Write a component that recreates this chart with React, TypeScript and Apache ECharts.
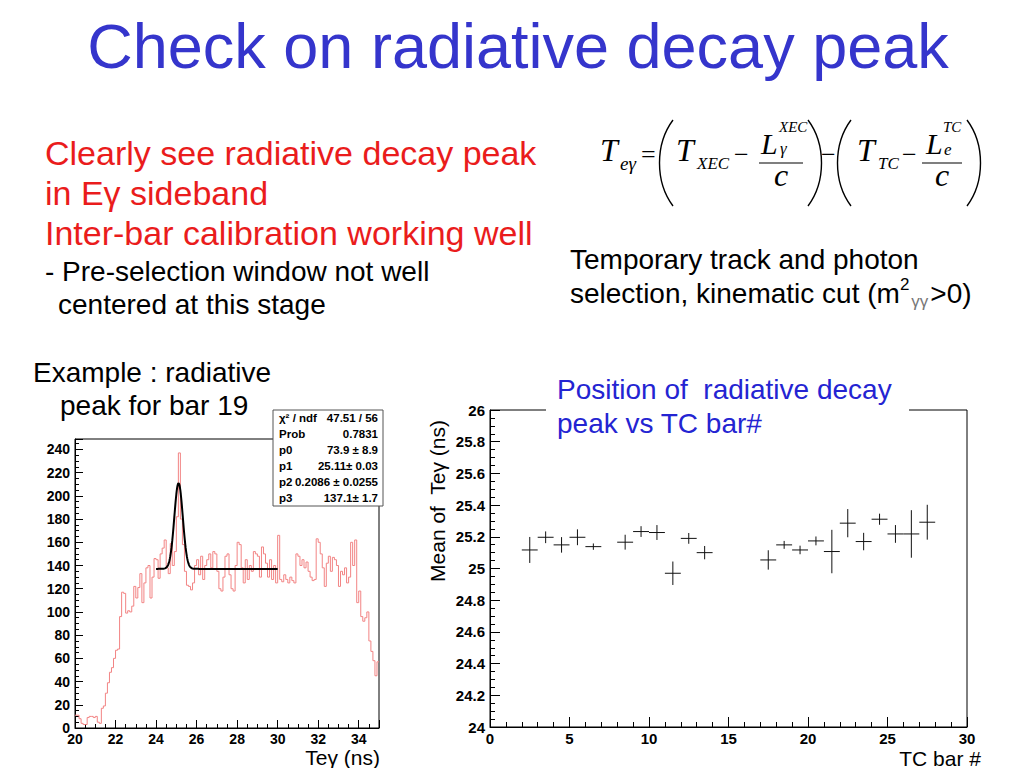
import React, { useEffect, useRef } from "react";
import * as echarts from "echarts";

// ---------- DATA ----------
const histStart = 20;
const histBinWidth = 0.1;
const histCounts = [
  11, 11, 8, 4, 3, 3, 9, 10, 10, 9,
  10, 5, 4, 17, 19, 30, 39, 48, 52, 60,
  67, 68, 96, 117, 116, 99, 101, 100, 105, 122,
  112, 121, 133, 108, 125, 138, 140, 112, 130, 146,
  145, 129, 150, 155, 162, 138, 133, 159, 140, 152,
  182, 237, 180, 158, 135, 123, 122, 119, 125, 140,
  145, 132, 148, 128, 140, 145, 150, 138, 152, 150,
  135, 120, 118, 130, 148, 150, 132, 120, 118, 140,
  160, 158, 138, 125, 145, 128, 140, 135, 152, 150,
  148, 130, 156, 150, 142, 130, 145, 128, 140, 125,
  166, 128, 126, 132, 128, 125, 130, 127, 125, 150,
  148, 140, 145, 138, 143, 135, 130, 127, 128, 163,
  160, 150, 138, 122, 142, 148, 135, 147, 145, 140,
  122, 135, 132, 138, 125, 130, 160, 140, 162, 108,
  118, 96, 92, 95, 100, 75, 66, 58, 45, 57,
];

// fit: p0*gaus(p1,p2) + p3, drawn over 24..30
const fitParams = [73.9, 25.11, 0.2086, 137.1];
const fitRange = [24, 30];

const statsLabels = ["χ² / ndf", "Prob", "p0", "p1", "p2", "p3"];
const statsValues = ["47.51 / 56", "0.7831", "73.9 ± 8.9", "25.11± 0.03", "0.2086 ± 0.0255", "137.1± 1.7"];

const barIndex = [2.5, 3.5, 4.5, 5.5, 6.5, 8.5, 9.5, 10.5, 11.5, 12.5, 13.5, 17.5, 18.5, 19.5, 20.5, 21.5, 22.5, 23.5, 24.5, 25.5, 26.5, 27.5];
const barMean = [25.117, 25.197, 25.149, 25.197, 25.138, 25.166, 25.233, 25.227, 24.97, 25.19, 25.1, 25.054, 25.149, 25.117, 25.174, 25.107, 25.286, 25.17, 25.311, 25.218, 25.218, 25.292];
const barErr = [0.082, 0.037, 0.049, 0.05, 0.02, 0.047, 0.034, 0.047, 0.074, 0.034, 0.042, 0.061, 0.025, 0.027, 0.028, 0.137, 0.089, 0.055, 0.035, 0.056, 0.15, 0.11];

// ---------- STYLE ----------
const SANS = "Liberation Sans, Arial, Helvetica, sans-serif";
const SERIF = "Liberation Serif, Times New Roman, serif";
const BLUE_TITLE = "#3535cc";
const BLUE = "#2424d2";
const RED = "#ea1c1c";

function buildHist() {
  const pts: number[][] = histCounts.map((v, i) => [histStart + i * histBinWidth, v]);
  pts.push([histStart + histCounts.length * histBinWidth, histCounts[histCounts.length - 1]]);
  return pts;
}

function buildFit() {
  const [p0, p1, p2, p3] = fitParams;
  const pts: number[][] = [];
  const n = 300;
  for (let i = 0; i <= n; i++) {
    const x = fitRange[0] + ((fitRange[1] - fitRange[0]) * i) / n;
    pts.push([x, p0 * Math.exp(-0.5 * ((x - p1) / p2) ** 2) + p3]);
  }
  return pts;
}

const txt = (x: number, y: number, text: string, style: any, extra: any = {}) => ({
  type: "text",
  x,
  y,
  z: 20,
  style: { text, fill: "#000", fontFamily: SANS, verticalAlign: "middle", align: "left", ...style },
  ...extra,
});

const paren = (x1: number, xc: number, y1: number, y2: number) => ({
  type: "bezierCurve",
  z: 20,
  shape: { x1, y1, cpx1: xc, cpy1: y1 + (y2 - y1) * 0.28, cpx2: xc, cpy2: y2 - (y2 - y1) * 0.28, x2: x1, y2 },
  style: { stroke: "#000", lineWidth: 1.4, fill: "none" },
});

const hline = (x1: number, x2: number, y: number, w = 1.2) => ({
  type: "line",
  z: 20,
  shape: { x1, y1: y, x2, y2: y },
  style: { stroke: "#000", lineWidth: w },
});

function formula() {
  const it = (size: number) => ({ fontFamily: SERIF, fontStyle: "italic", fontSize: size });
  const up = (size: number) => ({ fontFamily: SERIF, fontSize: size });
  const yT = 150;
  const ySub = 163;
  return [
    txt(600, yT, "T", it(32)),
    txt(620, ySub, "eγ", it(19)),
    txt(641, 154, "=", up(26)),
    paren(673, 655, 120, 206),
    txt(676, yT, "T", it(32)),
    txt(697, ySub, "XEC", it(17)),
    txt(734, 154, "−", up(26)),
    txt(761, 143, "L", it(30)),
    txt(779, 127, "XEC", it(15)),
    txt(780, 148, "γ", it(17)),
    hline(759, 803, 163),
    txt(781, 175, "c", { ...it(32), align: "center" }),
    paren(808, 826, 120, 206),
    txt(821, 154, "−", up(26)),
    paren(851, 833, 120, 206),
    txt(857, yT, "T", it(32)),
    txt(878, ySub, "TC", it(17)),
    txt(902, 154, "−", up(26)),
    txt(926, 143, "L", it(30)),
    txt(943, 127, "TC", it(15)),
    txt(944, 149, "e", it(17)),
    hline(922, 962, 163),
    txt(942, 175, "c", { ...it(32), align: "center" }),
    paren(967, 985, 120, 206),
  ];
}

function statsBox() {
  const x0 = 273, y0 = 410, w = 110, h = 96;
  const rowH = h / statsLabels.length;
  const children: any[] = [
    { type: "rect", z: 30, shape: { x: x0, y: y0, width: w, height: h }, style: { fill: "#fff", stroke: "#555", lineWidth: 1 } },
  ];
  statsLabels.forEach((lab, i) => {
    const y = y0 + rowH * (i + 0.5);
    children.push({ type: "text", z: 31, x: x0 + 6, y, style: { text: lab, fill: "#000", fontFamily: SANS, fontWeight: "bold", fontSize: 11.5, verticalAlign: "middle", align: "left" } });
    children.push({ type: "text", z: 31, x: x0 + w - 5, y, style: { text: statsValues[i], fill: "#000", fontFamily: SANS, fontWeight: "bold", fontSize: 11.5, verticalAlign: "middle", align: "right" } });
  });
  return { type: "group", z: 30, children };
}

const axisCommon = (tickLen: number, minorLen: number, split: number, fontSize: number) => ({
  axisLine: { show: true, onZero: false, lineStyle: { color: "#000", width: 1 } },
  axisTick: { show: true, inside: true, length: tickLen, lineStyle: { color: "#000", width: 1 } },
  minorTick: { show: true, splitNumber: split, length: minorLen, lineStyle: { color: "#000", width: 1 } },
  splitLine: { show: false },
  minorSplitLine: { show: false },
  axisLabel: {
    color: "#000",
    fontFamily: SANS,
    fontWeight: "bold",
    fontSize,
    showMaxLabel: false,
    formatter: (v: number) => String(Math.round(v * 10) / 10),
  },
});

export default function App() {
  const ref = useRef<HTMLDivElement>(null);
  useEffect(() => {
    if (!ref.current) return;
    const chart = echarts.init(ref.current, null, { renderer: "svg" });
    const lx = axisCommon(8, 4, 4, 14);
    const ly = axisCommon(8, 4, 4, 14);
    const rx = axisCommon(10, 5, 5, 15);
    const ry = axisCommon(10, 5, 4, 15);
    const option: any = {
      animation: false,
      backgroundColor: "#fff",
      grid: [
        { left: 75, top: 439, width: 304, height: 289, show: true, borderColor: "#000", borderWidth: 1, backgroundColor: "transparent" },
        { left: 490, top: 410, width: 477, height: 317, show: true, borderColor: "#000", borderWidth: 1, backgroundColor: "transparent" },
      ],
      xAxis: [
        { type: "value", gridIndex: 0, min: 20, max: 35, interval: 2, ...lx, axisLabel: { ...lx.axisLabel, margin: 4 } },
        { type: "value", gridIndex: 1, min: 0, max: 30, interval: 5, ...rx, axisLabel: { ...rx.axisLabel, margin: 4, showMaxLabel: true } },
      ],
      yAxis: [
        { type: "value", gridIndex: 0, min: 0, max: 249, interval: 20, ...ly, axisLabel: { ...ly.axisLabel, margin: 5 } },
        { type: "value", gridIndex: 1, min: 24, max: 26, interval: 0.2, ...ry, axisLabel: { ...ry.axisLabel, margin: 5, showMaxLabel: true } },
      ],
      series: [
        {
          type: "line",
          xAxisIndex: 0,
          yAxisIndex: 0,
          step: "end",
          data: buildHist(),
          symbol: "none",
          lineStyle: { color: "#f28484", width: 1 },
          z: 2,
        },
        {
          type: "line",
          xAxisIndex: 0,
          yAxisIndex: 0,
          data: buildFit(),
          symbol: "none",
          lineStyle: { color: "#000", width: 2 },
          z: 3,
        },
        {
          type: "custom",
          xAxisIndex: 1,
          yAxisIndex: 1,
          data: barIndex.map((x, i) => [x, barMean[i], barErr[i]]),
          encode: { x: 0, y: 1 },
          renderItem: (_p: any, api: any) => {
            const x = api.value(0);
            const y = api.value(1);
            const e = api.value(2);
            const l = api.coord([x - 0.5, y]);
            const r = api.coord([x + 0.5, y]);
            const t = api.coord([x, y + e]);
            const b = api.coord([x, y - e]);
            const st = { stroke: "#111", lineWidth: 1 };
            return {
              type: "group",
              children: [
                { type: "line", shape: { x1: l[0], y1: l[1], x2: r[0], y2: r[1] }, style: st },
                { type: "line", shape: { x1: t[0], y1: t[1], x2: b[0], y2: b[1] }, style: st },
              ],
            };
          },
          z: 3,
        },
      ],
      graphic: [
        txt(518, 46, "Check on radiative decay peak", { fontSize: 63, fill: BLUE_TITLE, align: "center" }),
        txt(45, 153, "Clearly see radiative decay peak", { fontSize: 34, fill: RED }),
        txt(45, 193, "in Eγ sideband", { fontSize: 34, fill: RED }),
        txt(45, 233, "Inter-bar calibration working well", { fontSize: 34, fill: RED }),
        txt(45, 271, "- Pre-selection window not well", { fontSize: 28 }),
        txt(58, 304, "centered at this stage", { fontSize: 28 }),
        ...formula(),
        txt(570, 259, "Temporary track and photon", { fontSize: 28 }),
        {
          type: "text",
          x: 570,
          y: 293,
          z: 20,
          style: {
            text: "selection, kinematic cut (m{sup|2}{sub|γγ}>0)",
            fill: "#000",
            fontFamily: SANS,
            fontSize: 28,
            lineHeight: 34,
            verticalAlign: "middle",
            align: "left",
            rich: {
              sup: { fontSize: 17, fontFamily: SANS, fill: "#000", verticalAlign: "top", lineHeight: 34 },
              sub: { fontSize: 17, fontFamily: SANS, fill: "#777", verticalAlign: "bottom", lineHeight: 30, padding: [0, 2, 0, 2] },
            },
          },
        },
        txt(33, 372, "Example : radiative", { fontSize: 28 }),
        txt(60, 405, "peak for bar 19", { fontSize: 28 }),
        statsBox(),
        { type: "rect", z: 25, shape: { x: 546, y: 372, width: 363, height: 68 }, style: { fill: "#fff" } },
        txt(557, 389, "Position of  radiative decay", { fontSize: 28, fill: BLUE }, { z: 26 }),
        txt(557, 423, "peak vs TC bar#", { fontSize: 28, fill: BLUE }, { z: 26 }),
        txt(437, 501, "Mean of  Teγ (ns)", { fontSize: 21, align: "center" }, { rotation: Math.PI / 2 }),
        txt(380, 757, "Teγ (ns)", { fontSize: 21, align: "right" }),
        txt(981, 758, "TC bar #", { fontSize: 21, align: "right" }),
      ],
    };
    chart.setOption(option);
    return () => chart.dispose();
  }, []);
  return (
    <div
      ref={ref}
      style={{ position: "fixed", left: 0, top: 0, width: 1024, height: 768, background: "#fff" }}
    />
  );
}
